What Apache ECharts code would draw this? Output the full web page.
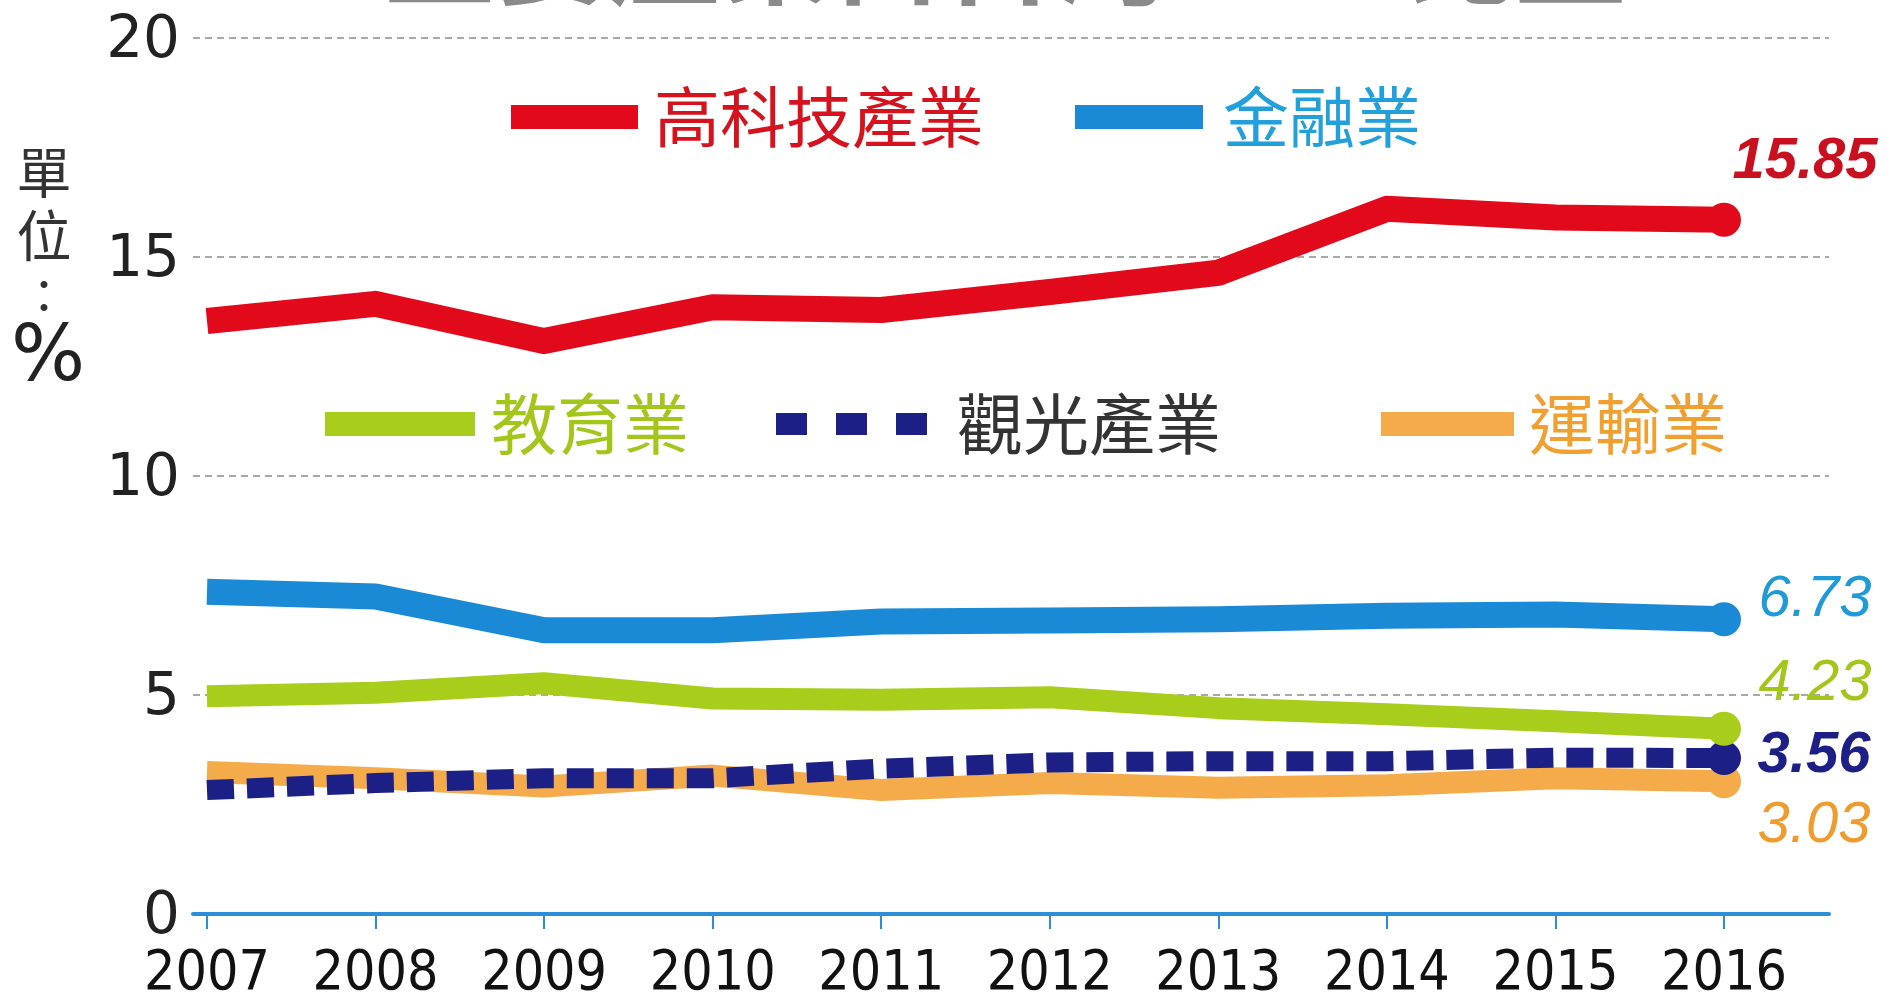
<!DOCTYPE html>
<html>
<head>
<meta charset="utf-8">
<script src="https://cdn.jsdelivr.net/npm/echarts@6/dist/echarts.min.js"></script>
<style>
  html, body { margin: 0; padding: 0; background: #fff; }
  #chart { width: 1887px; height: 993px; }
</style>
</head>
<body>
<div id="chart"></div>
<script>
// data (unit: %)
const years = [2007, 2008, 2009, 2010, 2011, 2012, 2013, 2014, 2015, 2016]
const names = ['高科技產業', '金融業', '教育業', '觀光產業', '運輸業']
const hiTech = [13.54, 13.93, 13.08, 13.85, 13.79, 14.2, 14.64, 16.1, 15.9, 15.85]
const finance = [7.36, 7.25, 6.48, 6.48, 6.68, 6.7, 6.73, 6.81, 6.84, 6.73]
const education = [4.97, 5.05, 5.27, 4.92, 4.89, 4.95, 4.7, 4.56, 4.4, 4.23]
const tourism = [2.83, 2.99, 3.1, 3.1, 3.32, 3.46, 3.49, 3.49, 3.57, 3.56]
const transport = [3.24, 3.1, 2.91, 3.16, 2.83, 2.99, 2.88, 2.94, 3.1, 3.03]
const yTicks = [0, 5, 10, 15, 20]

const chart = echarts.init(document.getElementById('chart'))

// look of each line, in drawing order (bottom first)
const styles = [
  {name: names[4], data: transport, color: '#f5ab4a', text: '#ef9c2e', width: 22, labelOffset: [90, 45], bold: false},
  {name: names[3], data: tourism, color: '#1c1f86', text: '#1c1f86', width: 20, dash: [27, 13], labelOffset: [90, -2], bold: true},
  {name: names[2], data: education, color: '#a8cd1b', text: '#a3c61a', width: 22, labelOffset: [91, -45], bold: false},
  {name: names[1], data: finance, color: '#1b8ad6', text: '#1f9ad8', width: 26, labelOffset: [91, -19], bold: false},
  {name: names[0], data: hiTech, color: '#e2091b', text: '#c9101f', width: 26, labelOffset: [81, -58], bold: true}
]

const series = styles.map(s => ({
  name: s.name,
  type: 'line',
  symbol: 'circle',
  showSymbol: true,
  symbolSize: (v, p) => p.dataIndex === years.length - 1 ? 34 : 0,
  lineStyle: {color: s.color, width: s.width, type: s.dash || 'solid', cap: 'butt', join: 'round'},
  itemStyle: {color: s.color},
  emphasis: {disabled: true},
  data: years.map((y, i) => {
    const item = {value: [y, s.data[i]]}
    if (i === years.length - 1) {
      item.label = {
        show: true,
        position: 'inside',
        offset: s.labelOffset,
        formatter: p => p.value[1].toFixed(2),
        color: s.text,
        fontSize: 58,
        fontStyle: 'italic',
        fontWeight: s.bold ? 'bold' : 'normal',
        fontFamily: 'Liberation Sans, Arial, sans-serif',
        align: 'center',
        verticalAlign: 'middle'
      }
    }
    return item
  })
}))

// hand-placed legend, as in the picture
const legendPos = {
  '高科技產業': {x: 511, y: 117, w: 127, tx: 654},
  '金融業': {x: 1075, y: 117, w: 128, tx: 1223},
  '教育業': {x: 325, y: 424, w: 150, tx: 491},
  '觀光產業': {x: 776, y: 424, w: 151, tx: 957},
  '運輸業': {x: 1381, y: 424, w: 133, tx: 1529}
}
const legendText = {'高科技產業': '#d5121e', '金融業': '#22a0dc', '教育業': '#a3c61a', '觀光產業': '#333333', '運輸業': '#f0a030'}

const graphic = []
styles.forEach(s => {
  const p = legendPos[s.name]
  if (s.dash) {
    for (let k = 0; k < 3; k++) {
      graphic.push({type: 'rect', shape: {x: p.x + k * 60, y: p.y - 11, width: 31, height: 22}, style: {fill: s.color}})
    }
  } else {
    graphic.push({type: 'rect', shape: {x: p.x, y: p.y - 12, width: p.w, height: 24}, style: {fill: s.color}})
  }
  graphic.push({
    type: 'text', x: p.tx, y: p.y,
    style: {text: s.name, fill: legendText[s.name], font: '66px "Noto Sans CJK TC"', verticalAlign: 'middle'}
  })
})

// unit label, written top to bottom
graphic.push(
  {type: 'text', x: 44, y: 172, style: {text: '單', fill: '#333', font: '55px "Noto Sans CJK TC"', align: 'center', verticalAlign: 'middle'}},
  {type: 'text', x: 44, y: 235, style: {text: '位', fill: '#333', font: '55px "Noto Sans CJK TC"', align: 'center', verticalAlign: 'middle'}},
  {type: 'text', x: 44, y: 296, style: {text: '：', fill: '#333', font: '46px "Noto Sans CJK TC"', align: 'center', verticalAlign: 'middle'}},
  {type: 'text', x: 48, y: 360, style: {text: '%', fill: '#222', font: '78px "DejaVu Sans"', align: 'center', verticalAlign: 'middle'}}
)

// title, cut off at the top edge in the picture
graphic.push({type: 'text', x: 1005, y: 9, style: {text: '主要產業占台灣GDP比重', fill: '#8a8a8a', font: 'bold 112px "Noto Sans CJK TC"', align: 'center', verticalAlign: 'bottom'}})

chart.setOption({
  backgroundColor: '#fff',
  animation: false,
  grid: {left: 193, right: 58, top: 38, bottom: 79, outerBoundsMode: 'none'},
  xAxis: {
    type: 'value',
    min: 2006.917,
    max: 2016.623,
    splitLine: {show: false},
    axisLine: {show: true, lineStyle: {color: '#2a8fd8', width: 4}},
    axisTick: {show: true, customValues: years, length: 15, lineStyle: {color: '#2a8fd8', width: 2}},
    axisLabel: {
      customValues: years,
      formatter: v => String(v),
      margin: 33,
      color: '#111',
      fontSize: 55,
      fontFamily: '"Liberation Sans Narrow", "DejaVu Sans Condensed", "Liberation Sans", sans-serif'
    }
  },
  yAxis: {
    type: 'value',
    min: yTicks[0],
    max: yTicks[yTicks.length - 1],
    interval: 5,
    axisLine: {show: false},
    axisTick: {show: false},
    axisLabel: {
      margin: 13,
      formatter: v => '{n|' + v + '}',
      rich: {n: {padding: [8, 0, 0, 0], color: '#222', fontSize: 58, fontFamily: '"DejaVu Sans", sans-serif'}}
    },
    splitLine: {show: true, lineStyle: {color: '#a8a8a8', width: 2, type: [7, 5]}}
  },
  graphic: graphic,
  series: series
})
</script>
</body>
</html>
